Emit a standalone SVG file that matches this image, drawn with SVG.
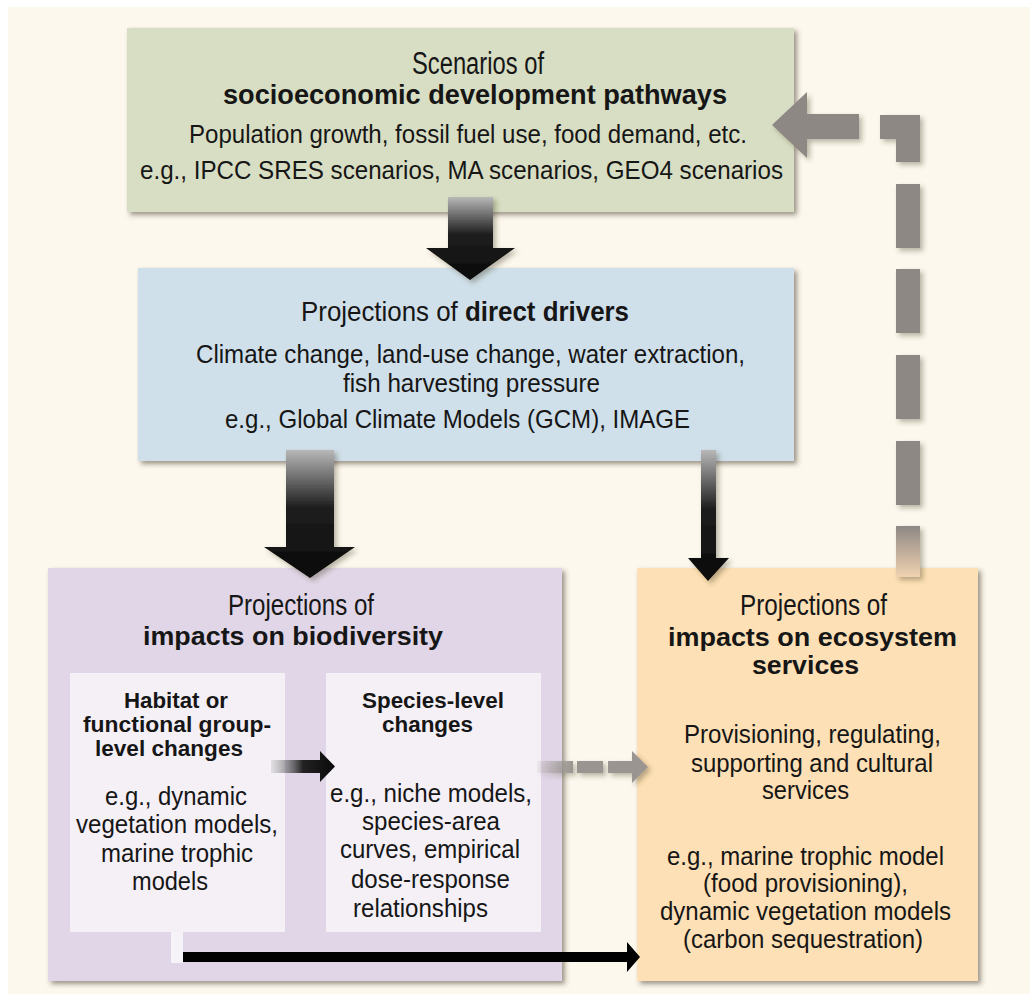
<svg xmlns="http://www.w3.org/2000/svg" width="1030" height="994" viewBox="0 0 1030 994">
<defs>
<style>
.t{font-family:"Liberation Sans",Arial,Helvetica,sans-serif;fill:#161616}
.c{font-family:"Liberation Sans Narrow","Liberation Sans",Arial,sans-serif;fill:#161616}
.b{font-weight:bold}
</style>
<filter id="sh" x="-10%" y="-10%" width="125%" height="125%">
<feDropShadow dx="3" dy="3" stdDeviation="2.5" flood-color="#3a3020" flood-opacity="0.5"/>
</filter>
<filter id="sha" x="-30%" y="-30%" width="170%" height="170%">
<feDropShadow dx="3" dy="3" stdDeviation="2.5" flood-color="#3a3020" flood-opacity="0.35"/>
</filter>
<linearGradient id="gv" x1="0" y1="0" x2="0" y2="1">
<stop offset="0" stop-color="#b8b8b8"/>
<stop offset="0.45" stop-color="#1e1e1e"/>
<stop offset="1" stop-color="#0a0a0a"/>
</linearGradient>
<linearGradient id="gh" x1="0" y1="0" x2="1" y2="0">
<stop offset="0" stop-color="#9a9a9a" stop-opacity="0.2"/>
<stop offset="0.5" stop-color="#222"/>
<stop offset="1" stop-color="#0a0a0a"/>
</linearGradient>
<linearGradient id="ghg" x1="0" y1="0" x2="1" y2="0">
<stop offset="0" stop-color="#a09b97" stop-opacity="0.1"/>
<stop offset="1" stop-color="#9a9591"/>
</linearGradient>
<linearGradient id="gvo" x1="0" y1="0" x2="0" y2="1">
<stop offset="0" stop-color="#8e8884"/>
<stop offset="1" stop-color="#f0d2b0"/>
</linearGradient>
</defs>
<rect x="0" y="0" width="1030" height="994" fill="#ffffff"/>
<rect x="8" y="7" width="1022" height="987" fill="#fcf8ee"/>

<g id="node-socioeconomic">
<rect x="127" y="28" width="667" height="184" fill="#d8dec3" filter="url(#sh)"/>
<text class="c" x="412" y="74" font-size="31" textLength="132" lengthAdjust="spacingAndGlyphs">Scenarios of</text>
<text class="t b" x="223" y="104" font-size="27" textLength="504" lengthAdjust="spacingAndGlyphs">socioeconomic development pathways</text>
<text class="t" x="189" y="143" font-size="26" textLength="558" lengthAdjust="spacingAndGlyphs">Population growth, fossil fuel use, food demand, etc.</text>
<text class="t" x="140" y="179" font-size="26" textLength="643" lengthAdjust="spacingAndGlyphs">e.g., IPCC SRES scenarios, MA scenarios, GEO4 scenarios</text>
</g>

<g id="node-drivers">
<rect x="138" y="268" width="656" height="193" fill="#d0e0ea" filter="url(#sh)"/>
<text class="t" x="301" y="321" font-size="28" textLength="328" lengthAdjust="spacingAndGlyphs"><tspan font-size="28">Projections of </tspan><tspan class="b">direct drivers</tspan></text>
<text class="t" x="196" y="363" font-size="25" textLength="549" lengthAdjust="spacingAndGlyphs">Climate change, land-use change, water extraction,</text>
<text class="t" x="343" y="392" font-size="25" textLength="257" lengthAdjust="spacingAndGlyphs">fish harvesting pressure</text>
<text class="t" x="225" y="428" font-size="25" textLength="465" lengthAdjust="spacingAndGlyphs">e.g., Global Climate Models (GCM), IMAGE</text>
</g>

<g id="node-biodiversity">
<rect x="48" y="568" width="514" height="413" fill="#e1d6e7" filter="url(#sh)"/>
<text class="c" x="228" y="615" font-size="30" textLength="146" lengthAdjust="spacingAndGlyphs">Projections of</text>
<text class="t b" x="143" y="645" font-size="26" textLength="300" lengthAdjust="spacingAndGlyphs">impacts on biodiversity</text>
</g>

<g id="node-habitat">
<rect x="70" y="673" width="215" height="259" fill="#f4f0f6"/>
<text class="t b" x="124" y="708" font-size="22" textLength="104" lengthAdjust="spacingAndGlyphs">Habitat or</text>
<text class="t b" x="83" y="732" font-size="22" textLength="188" lengthAdjust="spacingAndGlyphs">functional group-</text>
<text class="t b" x="95" y="756" font-size="22" textLength="148" lengthAdjust="spacingAndGlyphs">level changes</text>
<text class="t" x="105" y="805" font-size="25" textLength="142" lengthAdjust="spacingAndGlyphs">e.g., dynamic</text>
<text class="t" x="76" y="833" font-size="25" textLength="202" lengthAdjust="spacingAndGlyphs">vegetation models,</text>
<text class="t" x="101" y="862" font-size="25" textLength="152" lengthAdjust="spacingAndGlyphs">marine trophic</text>
<text class="t" x="132" y="890" font-size="25" textLength="76" lengthAdjust="spacingAndGlyphs">models</text>
</g>

<g id="node-species">
<rect x="326" y="673" width="215" height="259" fill="#f4f0f6"/>
<text class="t b" x="362" y="708" font-size="22" textLength="142" lengthAdjust="spacingAndGlyphs">Species-level</text>
<text class="t b" x="382" y="732" font-size="22" textLength="91" lengthAdjust="spacingAndGlyphs">changes</text>
<text class="t" x="330" y="802" font-size="25" textLength="202" lengthAdjust="spacingAndGlyphs">e.g., niche models,</text>
<text class="t" x="362" y="830" font-size="25" textLength="138" lengthAdjust="spacingAndGlyphs">species-area</text>
<text class="t" x="340" y="858" font-size="25" textLength="180" lengthAdjust="spacingAndGlyphs">curves, empirical</text>
<text class="t" x="351" y="888" font-size="25" textLength="159" lengthAdjust="spacingAndGlyphs">dose-response</text>
<text class="t" x="353" y="917" font-size="25" textLength="135" lengthAdjust="spacingAndGlyphs">relationships</text>
</g>

<g id="node-ecosystem">
<rect x="637" y="568" width="341" height="413" fill="#fde0b5" filter="url(#sh)"/>
<text class="c" x="740" y="615" font-size="30" textLength="147" lengthAdjust="spacingAndGlyphs">Projections of</text>
<text class="t b" x="668" y="646" font-size="25" textLength="289" lengthAdjust="spacingAndGlyphs">impacts on ecosystem</text>
<text class="t b" x="752" y="674" font-size="25" textLength="107" lengthAdjust="spacingAndGlyphs">services</text>
<text class="t" x="684" y="743" font-size="25" textLength="257" lengthAdjust="spacingAndGlyphs">Provisioning, regulating,</text>
<text class="t" x="691" y="772" font-size="25" textLength="242" lengthAdjust="spacingAndGlyphs">supporting and cultural</text>
<text class="t" x="762" y="799" font-size="25" textLength="87" lengthAdjust="spacingAndGlyphs">services</text>
<text class="t" x="667" y="865" font-size="25" textLength="277" lengthAdjust="spacingAndGlyphs">e.g., marine trophic model</text>
<text class="t" x="703" y="892" font-size="25" textLength="205" lengthAdjust="spacingAndGlyphs">(food provisioning),</text>
<text class="t" x="660" y="920" font-size="25" textLength="291" lengthAdjust="spacingAndGlyphs">dynamic vegetation models</text>
<text class="t" x="683" y="948" font-size="25" textLength="240" lengthAdjust="spacingAndGlyphs">(carbon sequestration)</text>
</g>

<g id="connectors">
<path d="M448 197 H493 V248 H515 L470 280 L426 248 H448 Z" fill="url(#gv)" filter="url(#sha)"/>
<path d="M286 450 H334 V547 H355 L310 578 L264 547 H286 Z" fill="url(#gv)" filter="url(#sha)"/>
<path d="M701 450 H716 V558 H729 L708 581 L688 558 H701 Z" fill="url(#gv)" filter="url(#sha)"/>
<path d="M271 760 H320 V751 L335 766.5 L320 782 V773 H271 Z" fill="url(#gh)"/>
<g fill="#9a9591" filter="url(#sha)">
<rect x="537" y="761" width="36" height="12" fill="url(#ghg)"/>
<rect x="577" y="761" width="26" height="12"/>
<rect x="608" y="761" width="24" height="12"/>
<path d="M632 751 L648 767 L632 783 Z"/>
</g>
<rect x="171" y="932" width="12" height="31" fill="#f6f3f8"/>
<path d="M183 952 H627 V942 L640 957 L627 972 V962 H183 Z" fill="#000"/>
<g fill="#8e8884" filter="url(#sha)">
<path d="M772 125 L807 92 V114 H859 V139 H807 V158 Z"/>
<path d="M880 115 H920 V162 H896 V139 H880 Z"/>
<rect x="896" y="184" width="24" height="64"/>
<rect x="896" y="269" width="24" height="64"/>
<rect x="896" y="355" width="24" height="64"/>
<rect x="896" y="441" width="24" height="64"/>
<rect x="896" y="526" width="24" height="51" fill="url(#gvo)"/>
</g>
</g>
</svg>
